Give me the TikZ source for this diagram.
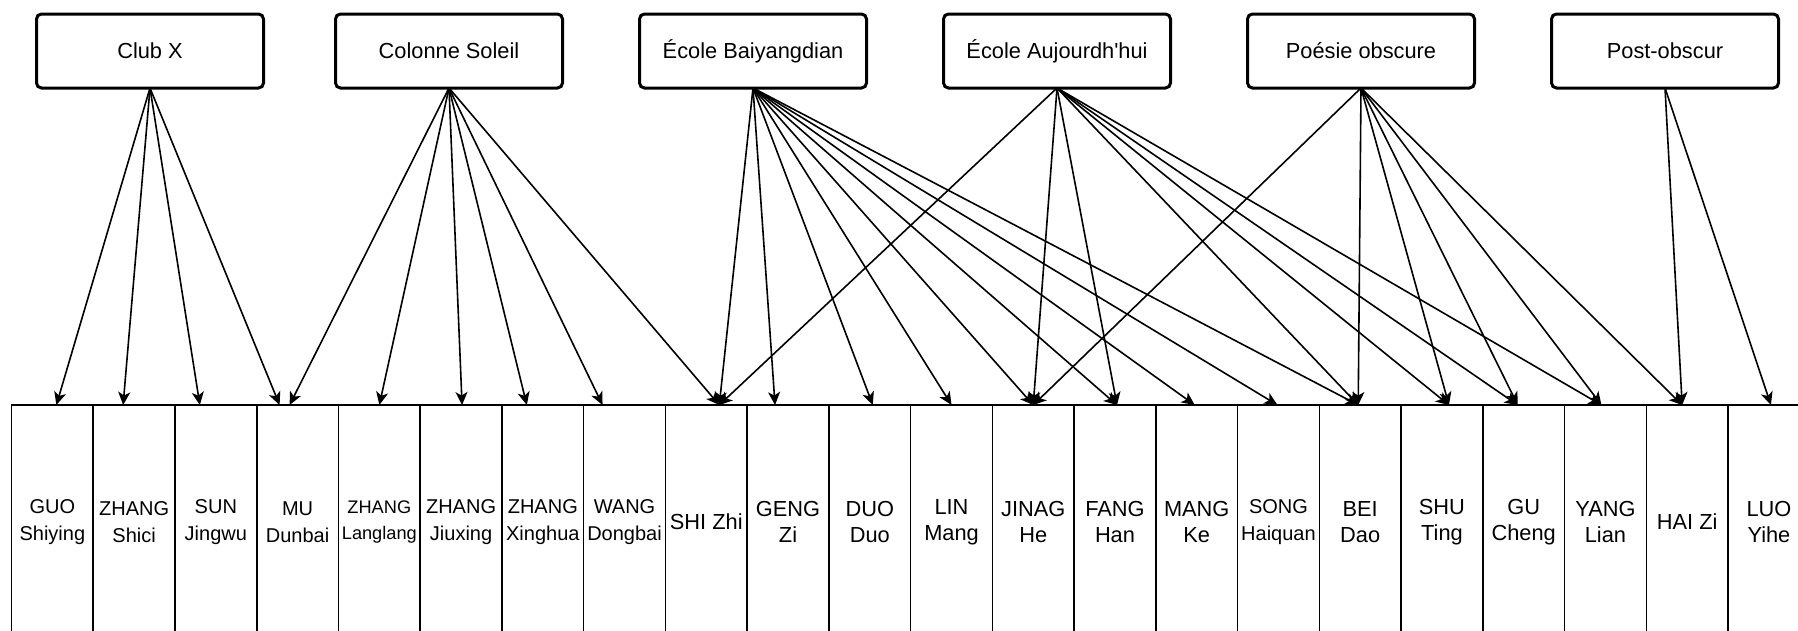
\documentclass[tikz,border=0pt]{standalone}
\usepackage{fontspec}
\setmainfont{Liberation Sans}
\usetikzlibrary{arrows.meta, positioning}

\begin{document}
\begin{tikzpicture}[
    x=1pt, y=-1pt,
    node distance=77pt, % gap between the school boxes
    school/.style={rectangle, draw, line width=3pt, rounded corners=5pt, minimum width=227pt, minimum height=74pt, inner sep=0pt, outer sep=0pt, font=\fontsize{21.8}{26}\selectfont},
    poet/.style={rectangle, draw, line width=1.6pt, minimum width=81.74pt, minimum height=234pt, inner sep=0pt, outer sep=0pt, align=center, font=\fontsize{21.8}{26.4}\selectfont},
    poet_s/.style={font=\fontsize{20}{27}\selectfont},
    poet_xs/.style={font=\fontsize{18.2}{26}\selectfont},
    line/.style={draw, line width=1.6pt, -{Stealth[length=13pt, width=12pt, inset=3.5pt]}}
]
    \useasboundingbox (0,0) rectangle (1798,630);

    % Place nodes: schools on top
    \node [school] (S_club) at (150,51) {Club X};
    \node [school, right=72pt of S_club] (S_colonne) {Colonne Soleil};
    \node [school, right=of S_colonne] (S_baiyang) {École Baiyangdian};
    \node [school, right=of S_baiyang] (S_jintian) {École Aujourdh\textquotesingle hui};
    \node [school, right=of S_jintian] (S_obscure) {Poésie obscure};
    \node [school, right=of S_obscure] (S_post) {Post-obscur};

    % Poets in one row of columns
    \node [poet, poet_s, anchor=north west] (P_guo) at (11.5,405) {GUO\\Shiying};
    \node [poet, poet_s, right=0pt of P_guo] (P_zshici) {ZHANG\\Shici};
    \node [poet, poet_s, right=0pt of P_zshici] (P_sun) {SUN\\Jingwu};
    \node [poet, poet_s, right=0pt of P_sun] (P_mu) {MU\\Dunbai};
    \node [poet, poet_xs, right=0pt of P_mu] (P_zlang) {ZHANG\\Langlang};
    \node [poet, poet_s, right=0pt of P_zlang] (P_zjiu) {ZHANG\\Jiuxing};
    \node [poet, poet_s, right=0pt of P_zjiu] (P_zxing) {ZHANG\\Xinghua};
    \node [poet, poet_s, right=0pt of P_zxing] (P_wang) {WANG\\Dongbai};
    \node [poet, right=0pt of P_wang] (P_shi) {SHI Zhi};
    \node [poet, right=0pt of P_shi] (P_geng) {GENG\\Zi};
    \node [poet, right=0pt of P_geng] (P_duo) {DUO\\Duo};
    \node [poet, right=0pt of P_duo] (P_lin) {LIN\\Mang};
    \node [poet, right=0pt of P_lin] (P_jinag) {JINAG\\He};
    \node [poet, right=0pt of P_jinag] (P_fang) {FANG\\Han};
    \node [poet, right=0pt of P_fang] (P_mang) {MANG\\Ke};
    \node [poet, poet_s, right=0pt of P_mang] (P_song) {SONG\\Haiquan};
    \node [poet, right=0pt of P_song] (P_bei) {BEI\\Dao};
    \node [poet, right=0pt of P_bei] (P_shu) {SHU\\Ting};
    \node [poet, right=0pt of P_shu] (P_gu) {GU\\Cheng};
    \node [poet, right=0pt of P_gu] (P_yang) {YANG\\Lian};
    \node [poet, right=0pt of P_yang] (P_hai) {HAI Zi};
    \node [poet, right=0pt of P_hai] (P_luo) {LUO\\Yihe};

    % Draw edges
    % Club X
    \path [line] (S_club.south) -- ([xshift=4pt]P_guo.north);
    \path [line] (S_club.south) -- ([xshift=-11pt]P_zshici.north);
    \path [line] (S_club.south) -- ([xshift=-16pt]P_sun.north);
    \path [line] (S_club.south) -- ([xshift=-18pt]P_mu.north);
    % Colonne Soleil
    \path [line] (S_colonne.south) -- ([xshift=-8pt]P_mu.north);
    \path [line] (S_colonne.south) -- (P_zlang.north);
    \path [line] (S_colonne.south) -- ([xshift=1pt]P_zjiu.north);
    \path [line] (S_colonne.south) -- ([xshift=-16pt]P_zxing.north);
    \path [line] (S_colonne.south) -- ([xshift=-22pt]P_wang.north);
    \path [line] (S_colonne.south) -- ([xshift=13pt]P_shi.north);
    % Ecole Baiyangdian
    \path [line] (S_baiyang.south) -- ([xshift=13pt]P_shi.north);
    \path [line] (S_baiyang.south) -- ([xshift=-13pt]P_geng.north);
    \path [line] (S_baiyang.south) -- ([xshift=3pt]P_duo.north);
    \path [line] (S_baiyang.south) -- (P_lin.north);
    \path [line] (S_baiyang.south) -- (P_jinag.north);
    \path [line] (S_baiyang.south) -- ([xshift=2pt]P_fang.north);
    \path [line] (S_baiyang.south) -- ([xshift=-2pt]P_mang.north);
    \path [line] (S_baiyang.south) -- ([xshift=-1pt]P_song.north);
    \path [line] (S_baiyang.south) -- ([xshift=-2pt]P_bei.north);
    % Ecole Aujourdh'hui
    \path [line] (S_jintian.south) -- ([xshift=13pt]P_shi.north);
    \path [line] (S_jintian.south) -- (P_jinag.north);
    \path [line] (S_jintian.south) -- ([xshift=2pt]P_fang.north);
    \path [line] (S_jintian.south) -- ([xshift=-2pt]P_bei.north);
    \path [line] (S_jintian.south) -- ([xshift=7pt]P_shu.north);
    \path [line] (S_jintian.south) -- ([xshift=-6pt]P_gu.north);
    \path [line] (S_jintian.south) -- ([xshift=-4pt]P_yang.north);
    % Poesie obscure
    \path [line] (S_obscure.south) -- (P_jinag.north);
    \path [line] (S_obscure.south) -- ([xshift=-2pt]P_bei.north);
    \path [line] (S_obscure.south) -- ([xshift=7pt]P_shu.north);
    \path [line] (S_obscure.south) -- ([xshift=-6pt]P_gu.north);
    \path [line] (S_obscure.south) -- ([xshift=-4pt]P_yang.north);
    \path [line] (S_obscure.south) -- ([xshift=-5pt]P_hai.north);
    % Post-obscur
    \path [line] (S_post.south) -- ([xshift=-5pt]P_hai.north);
    \path [line] (S_post.south) -- ([xshift=2pt]P_luo.north);

\end{tikzpicture}
\end{document}
